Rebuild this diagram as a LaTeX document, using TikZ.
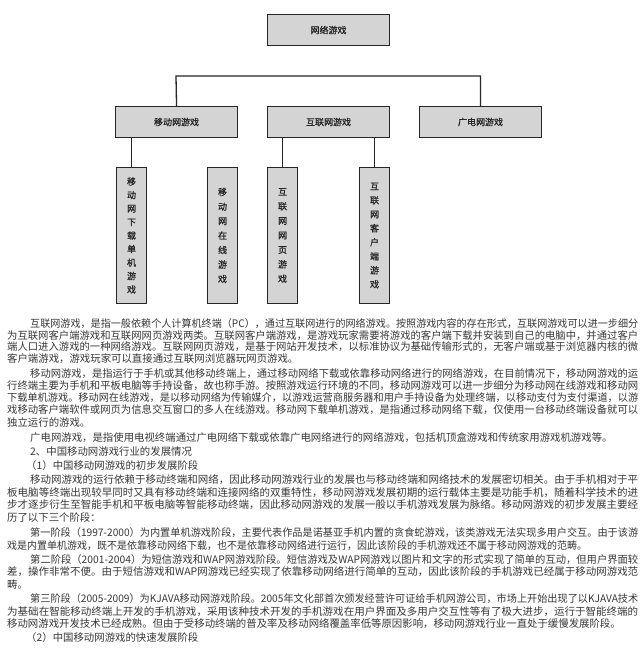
\documentclass[tikz,border=0pt]{standalone}
\usepackage{graphicx}
\usepackage{fontspec}
\setmainfont{Noto Sans CJK SC}
\newfontfamily\boxfont[FakeBold=1]{Noto Sans CJK SC}
\newcommand\fullA[1]{\resizebox{608pt}{\height}{#1}}
\newcommand\fullB[1]{\resizebox{631pt}{\height}{#1}}
\begin{document}
\begin{tikzpicture}[x=1pt,y=-1pt,
  gbox/.style={draw=black!85, line width=1.1pt, fill=black!17, inner sep=0pt,
    font=\boxfont\fontsize{9}{13.5}\selectfont, text=black!85},
  hbox/.style={gbox, minimum width=122pt, minimum height=31pt, anchor=north west},
  vbox/.style={gbox, minimum width=30pt, minimum height=136pt, anchor=north west, align=center},
  conn/.style={draw=black!85, line width=1.3pt},
  txt/.style={anchor=west, inner sep=0pt, text=black!78, font=\fontsize{10.4}{12}\selectfont}]
\useasboundingbox (0,0) rectangle (640,657);
\fill[white] (0,0) rectangle (640,657);
% diagram
\node[hbox] (root) at (267,14) {网络游戏};
\node[hbox] (mob) at (115,106) {移动网游戏};
\node[hbox] (web) at (267,106) {互联网游戏};
\node[hbox] (tv) at (419,106) {广电网游戏};
\node[vbox] (a) at (116,167) {移\\动\\网\\下\\载\\单\\机\\游\\戏};
\node[vbox, font=\boxfont\fontsize{9}{14.5}\selectfont] (b) at (207,167) {移\\动\\网\\在\\线\\游\\戏};
\node[vbox, font=\boxfont\fontsize{9}{14.5}\selectfont] (c) at (267,167) {互\\联\\网\\网\\页\\游\\戏};
\node[vbox, font=\boxfont\fontsize{9}{14}\selectfont] (d) at (359,167) {互\\联\\网\\客\\户\\端\\游\\戏};
\coordinate (barL) at (176,76);
\coordinate (barR) at (480.5,76);
\draw[conn] (mob.north) -- (barL) -- (barR) -- (tv.north);
\draw[conn] (mob.south -| a.north) -- (a.north);
\draw[conn] (web.south -| c.north) -- (c.north);
\draw[conn] (web.south -| d.north) -- (d.north);
% text
\node[txt] (l1) at (30,324) {\fullA{互联网游戏，是指一般依赖个人计算机终端（PC），通过互联网进行的网络游戏。按照游戏内容的存在形式，互联网游戏可以进一步细分}};
\node[txt] (l2) at (7,336) {\fullB{为互联网客户端游戏和互联网网页游戏两类。互联网客户端游戏，是游戏玩家需要将游戏的客户端下载并安装到自己的电脑中，并通过客户}};
\node[txt] (l3) at (7,347) {\fullB{端人口进入游戏的一种网络游戏。互联网网页游戏，是基于网站开发技术，以标准协议为基础传输形式的，无客户端或基于浏览器内核的微}};
\node[txt] (l4) at (7,359) {客户端游戏，游戏玩家可以直接通过互联网浏览器玩网页游戏。};
\node[txt] (l5) at (30,374) {\fullA{移动网游戏，是指运行于手机或其他移动终端上，通过移动网络下载或依靠移动网络进行的网络游戏，在目前情况下，移动网游戏的运}};
\node[txt] (l6) at (7,386) {\fullB{行终端主要为手机和平板电脑等手持设备，故也称手游。按照游戏运行环境的不同，移动网游戏可以进一步细分为移动网在线游戏和移动网}};
\node[txt] (l7) at (7,398) {\fullB{下载单机游戏。移动网在线游戏，是以移动网络为传输媒介，以游戏运营商服务器和用户手持设备为处理终端，以移动支付为支付渠道，以游}};
\node[txt] (l8) at (7,410) {\fullB{戏移动客户端软件或网页为信息交互窗口的多人在线游戏。移动网下载单机游戏，是指通过移动网络下载，仅使用一台移动终端设备就可以}};
\node[txt] (l9) at (7,423) {独立运行的游戏。};
\node[txt] (l10) at (30,438) {广电网游戏，是指使用电视终端通过广电网络下载或依靠广电网络进行的网络游戏，包括机顶盒游戏和传统家用游戏机游戏等。};
\node[txt] (l11) at (30,452) {2、中国移动网游戏行业的发展情况};
\node[txt] (l12) at (26,466) {（1）中国移动网游戏的初步发展阶段};
\node[txt] (l13) at (30,480) {\fullA{移动网游戏的运行依赖于移动终端和网络，因此移动网游戏行业的发展也与移动终端和网络技术的发展密切相关。由于手机相对于平}};
\node[txt] (l14) at (7,493) {\fullB{板电脑等终端出现较早同时又具有移动终端和连接网络的双重特性，移动网游戏发展初期的运行载体主要是功能手机，随着科学技术的进}};
\node[txt] (l15) at (7,505) {\fullB{步才逐步衍生至智能手机和平板电脑等智能移动终端，因此移动网游戏的发展一般以手机游戏发展为脉络。移动网游戏的初步发展主要经}};
\node[txt] (l16) at (7,518) {历了以下三个阶段：};
\node[txt] (l17) at (30,533) {\fullA{第一阶段（1997-2000）为内置单机游戏阶段，主要代表作品是诺基亚手机内置的贪食蛇游戏，该类游戏无法实现多用户交互。由于该游}};
\node[txt] (l18) at (7,546) {\resizebox{580pt}{\height}{戏是内置单机游戏，既不是依靠移动网络下载，也不是依靠移动网络进行运行，因此该阶段的手机游戏还不属于移动网游戏的范畴。}};
\node[txt] (l19) at (30,560) {\fullA{第二阶段（2001-2004）为短信游戏和WAP网游戏阶段。短信游戏及WAP网游戏以图片和文字的形式实现了简单的互动，但用户界面较}};
\node[txt] (l20) at (7,572) {\fullB{差，操作非常不便。由于短信游戏和WAP网游戏已经实现了依靠移动网络进行简单的互动，因此该阶段的手机游戏已经属于移动网游戏范}};
\node[txt] (l21) at (7,585) {畴。};
\node[txt] (l22) at (30,599) {\fullA{第三阶段（2005-2009）为KJAVA移动网游戏阶段。2005年文化部首次颁发经营许可证给手机网游公司，市场上开始出现了以KJAVA技术}};
\node[txt] (l23) at (7,612) {\fullB{为基础在智能移动终端上开发的手机游戏，采用该种技术开发的手机游戏在用户界面及多用户交互性等有了极大进步，运行于智能终端的}};
\node[txt] (l24) at (7,624) {移动网游戏开发技术已经成熟。但由于受移动终端的普及率及移动网络覆盖率低等原因影响，移动网游戏行业一直处于缓慢发展阶段。};
\node[txt] (l25) at (26,638) {（2）中国移动网游戏的快速发展阶段};
\end{tikzpicture}
\end{document}
